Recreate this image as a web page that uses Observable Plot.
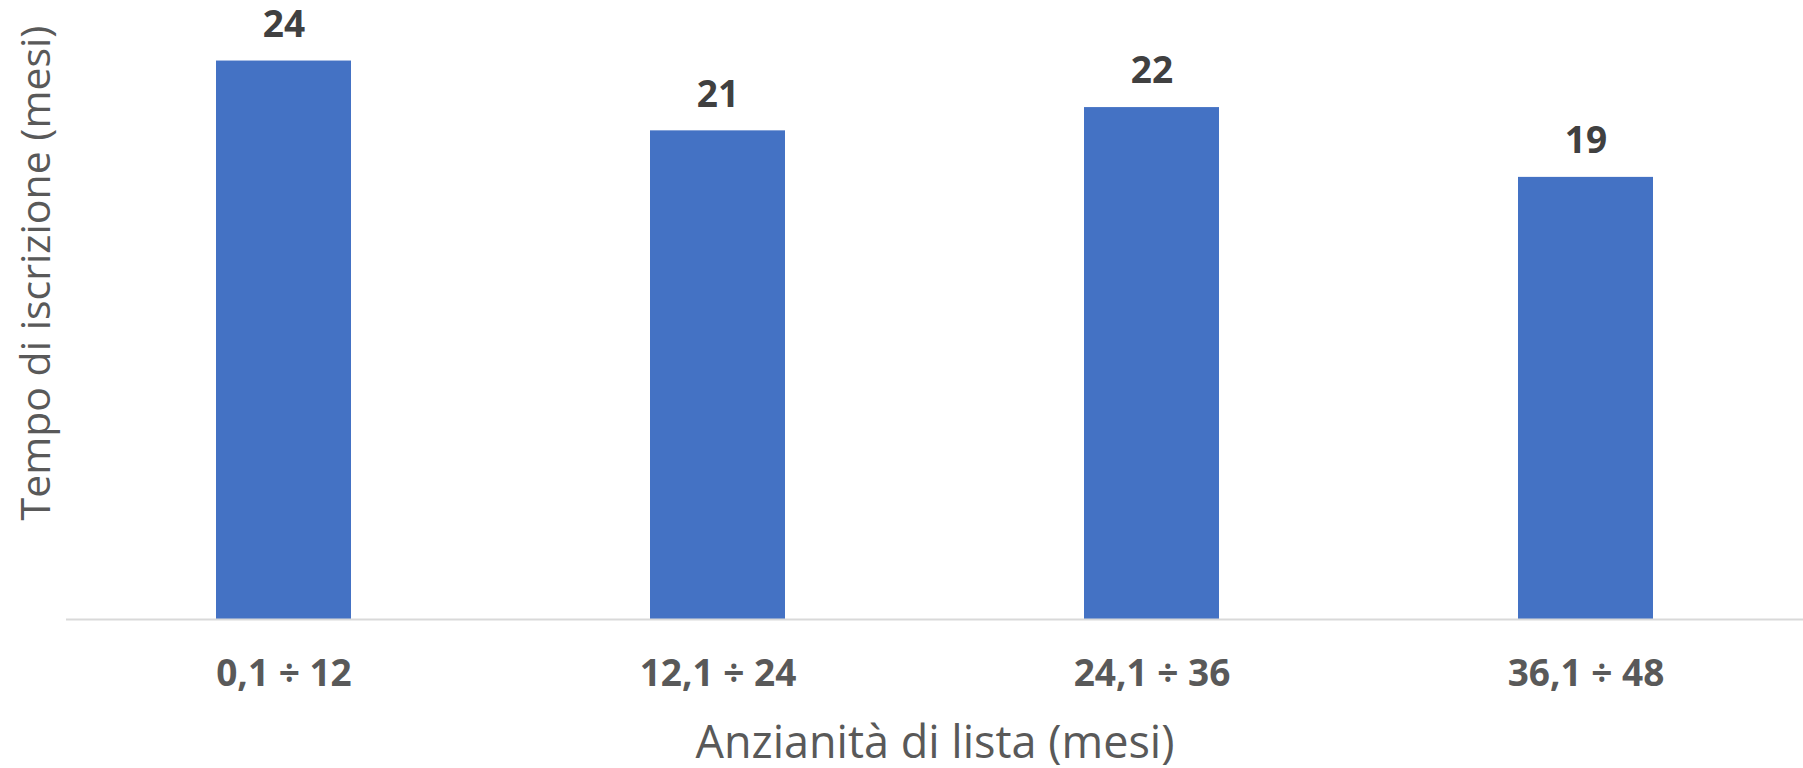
<!DOCTYPE html>
<html>
<head>
<meta charset="utf-8">
<script src="https://cdn.jsdelivr.net/npm/d3@7"></script>
<script src="https://cdn.jsdelivr.net/npm/@observablehq/plot@0.6"></script>
<style>
  html, body { margin: 0; padding: 0; background: #fff; }
  svg { display: block; }
</style>
</head>
<body>
<div id="chart"></div>
<script>
const categories = ["0,1 ÷ 12", "12,1 ÷ 24", "24,1 ÷ 36", "36,1 ÷ 48"];
const values = [24, 21, 22, 19];
const xTitle = "Anzianità di lista (mesi)";
const yTitle = "Tempo di iscrizione (mesi)";

const data = categories.map((c, i) => ({cat: c, val: values[i]}));

const chart = Plot.plot({
  width: 1803,
  height: 768,
  marginLeft: 66,
  marginRight: 0,
  marginTop: 14,
  marginBottom: 149,
  style: {fontFamily: "'Open Sans', sans-serif", background: "#fff"},
  x: {domain: categories, paddingInner: 0.689, paddingOuter: 0.3445, align: 0.5, label: null},
  y: {domain: [0, 26], axis: null},
  marks: [
    Plot.barY(data, {x: "cat", y: "val", fill: "#4472C4"}),
    Plot.ruleY([0], {stroke: "#d9d9d9", strokeWidth: 2}),
    Plot.text(data, {x: "cat", y: "val", text: d => String(d.val), dy: -36, lineAnchor: "middle",
      fontSize: 37, fontWeight: "bold", fill: "#404040"}),
    Plot.axisX({tickSize: 0, tickPadding: 40, fontSize: 37, fontWeight: "bold", fill: "#595959", label: null}),
    Plot.text([xTitle], {frameAnchor: "bottom", text: d => d, dy: 124, lineAnchor: "middle",
      fontSize: 45, fill: "#595959"}),
    Plot.text([yTitle], {frameAnchor: "left", text: d => d, dx: -30, dy: -44, rotate: -90,
      textAnchor: "middle", lineAnchor: "middle", fontSize: 41, fill: "#595959"})
  ]
});
document.getElementById("chart").appendChild(chart);
</script>
</body>
</html>
